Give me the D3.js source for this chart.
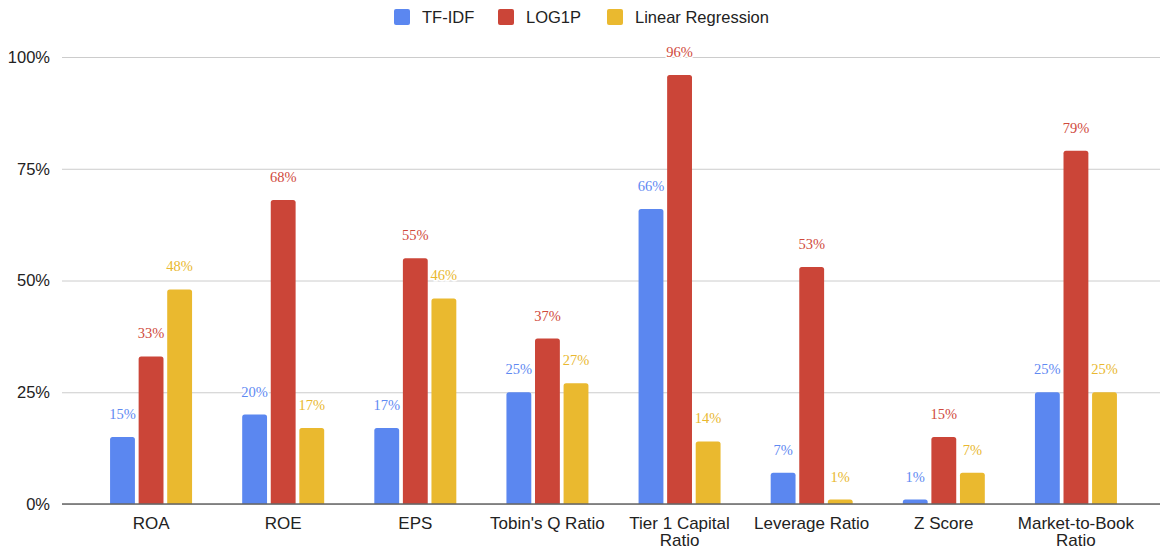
<!DOCTYPE html>
<html>
<head>
<meta charset="utf-8">
<script src="https://cdn.jsdelivr.net/npm/d3@7"></script>
<style>
  html, body { margin: 0; padding: 0; background: #fff; }
  svg { display: block; }
</style>
</head>
<body>
<svg id="chart" width="1162" height="550"></svg>
<script>
// Metric categories (line breaks mark where long labels wrap)
const categories = ["ROA", "ROE", "EPS", "Tobin's Q Ratio", "Tier 1 Capital|Ratio", "Leverage Ratio", "Z Score", "Market-to-Book|Ratio"];
const seriesNames = ["TF-IDF", "LOG1P", "Linear Regression"];
// Percent values per method
const tfidf = [15, 20, 17, 25, 66, 7, 1, 25];
const log1p = [33, 68, 55, 37, 96, 53, 15, 79];
const linreg = [48, 17, 46, 27, 14, 1, 7, 25];
const yTicks = [0, 25, 50, 75, 100];

const seriesValues = [tfidf, log1p, linreg];
const colors = ["#5b87f0", "#cb4538", "#eab92f"];
const labelColors = ["#5f8af2", "#d04a3c", "#e9b830"];

const svg = d3.select("#chart");
const sans = "Arial, 'Liberation Sans', sans-serif";

const plotTop = 57, plotBottom = 504, gridLeft = 62, gridRight = 1160;

const x0 = d3.scaleBand().domain(categories).range([85, 1142]).paddingInner(0).paddingOuter(0);
const x1 = d3.scaleBand().domain(seriesNames).range([0, 82]).paddingInner(0.13);
const groupOffset = (x0.bandwidth() - 82) / 2;
const y = d3.scaleLinear().domain([0, 100]).range([plotBottom, plotTop]);

// Horizontal gridlines and y-axis labels
const yAxis = d3.axisLeft(y).tickValues(yTicks).tickFormat(d => d + "%").tickSize(-(gridRight - gridLeft)).tickPadding(12);
const yg = svg.append("g").attr("transform", `translate(${gridLeft},0)`).call(yAxis);
yg.select(".domain").remove();
yg.selectAll(".tick line").attr("stroke", "#cccccc").attr("stroke-width", 1);
yg.selectAll(".tick text")
  .attr("font-family", sans)
  .attr("font-size", 16.5).attr("fill", "#222").attr("x", -12);

// Bars with slightly rounded tops
function barPath(x, yTop, w, h, r) {
  r = Math.min(r, h, w / 2);
  return `M${x},${yTop + h}V${yTop + r}Q${x},${yTop} ${x + r},${yTop}H${x + w - r}Q${x + w},${yTop} ${x + w},${yTop + r}V${yTop + h}Z`;
}

const groups = svg.append("g").selectAll("g")
  .data(categories)
  .join("g")
  .attr("transform", d => `translate(${x0(d) + groupOffset},0)`);

groups.each(function (cat, ci) {
  const g = d3.select(this);
  seriesNames.forEach((s, si) => {
    const v = seriesValues[si][ci];
    const bx = x1(s), bw = x1.bandwidth();
    g.append("path")
      .attr("d", barPath(bx, y(v), bw, plotBottom - y(v), 2.5))
      .attr("fill", colors[si]);
  });
});

// Value labels with a white halo
groups.each(function (cat, ci) {
  const g = d3.select(this);
  seriesNames.forEach((s, si) => {
    const v = seriesValues[si][ci];
    g.append("text")
      .attr("x", x1(s) + x1.bandwidth() / 2)
      .attr("y", y(v) - 18)
      .attr("text-anchor", "middle")
      .attr("font-family", "Georgia, 'Liberation Serif', 'DejaVu Serif', serif")
      .attr("font-size", 14.5)
      .attr("fill", labelColors[si])
      .attr("stroke", "#fff").attr("stroke-width", 3).attr("paint-order", "stroke")
      .text(v + "%");
  });
});

// Baseline
svg.append("line")
  .attr("x1", gridLeft).attr("x2", gridRight)
  .attr("y1", y(0)).attr("y2", y(0))
  .attr("stroke", "#666").attr("stroke-width", 1.5);

// Category labels
const xl = svg.append("g").selectAll("text")
  .data(categories)
  .join("text")
  .attr("x", d => x0(d) + x0.bandwidth() / 2)
  .attr("y", 529)
  .attr("text-anchor", "middle")
  .attr("font-family", sans)
  .attr("font-size", 17).attr("fill", "#222");
xl.each(function (d) {
  const lines = d.split("|");
  d3.select(this).selectAll("tspan").data(lines).join("tspan")
    .attr("x", x0(d) + x0.bandwidth() / 2)
    .attr("dy", (l, i) => i === 0 ? 0 : 17)
    .text(l => l);
});

// Legend
const legendX = [394, 498, 607];
const legend = svg.append("g");
seriesNames.forEach((s, i) => {
  legend.append("rect")
    .attr("x", legendX[i]).attr("y", 9).attr("width", 16).attr("height", 16)
    .attr("rx", 2).attr("fill", colors[i]);
  legend.append("text")
    .attr("x", legendX[i] + 28).attr("y", 23)
    .attr("font-family", sans)
    .attr("font-size", 16.5).attr("fill", "#222")
    .text(s);
});
</script>
</body>
</html>
